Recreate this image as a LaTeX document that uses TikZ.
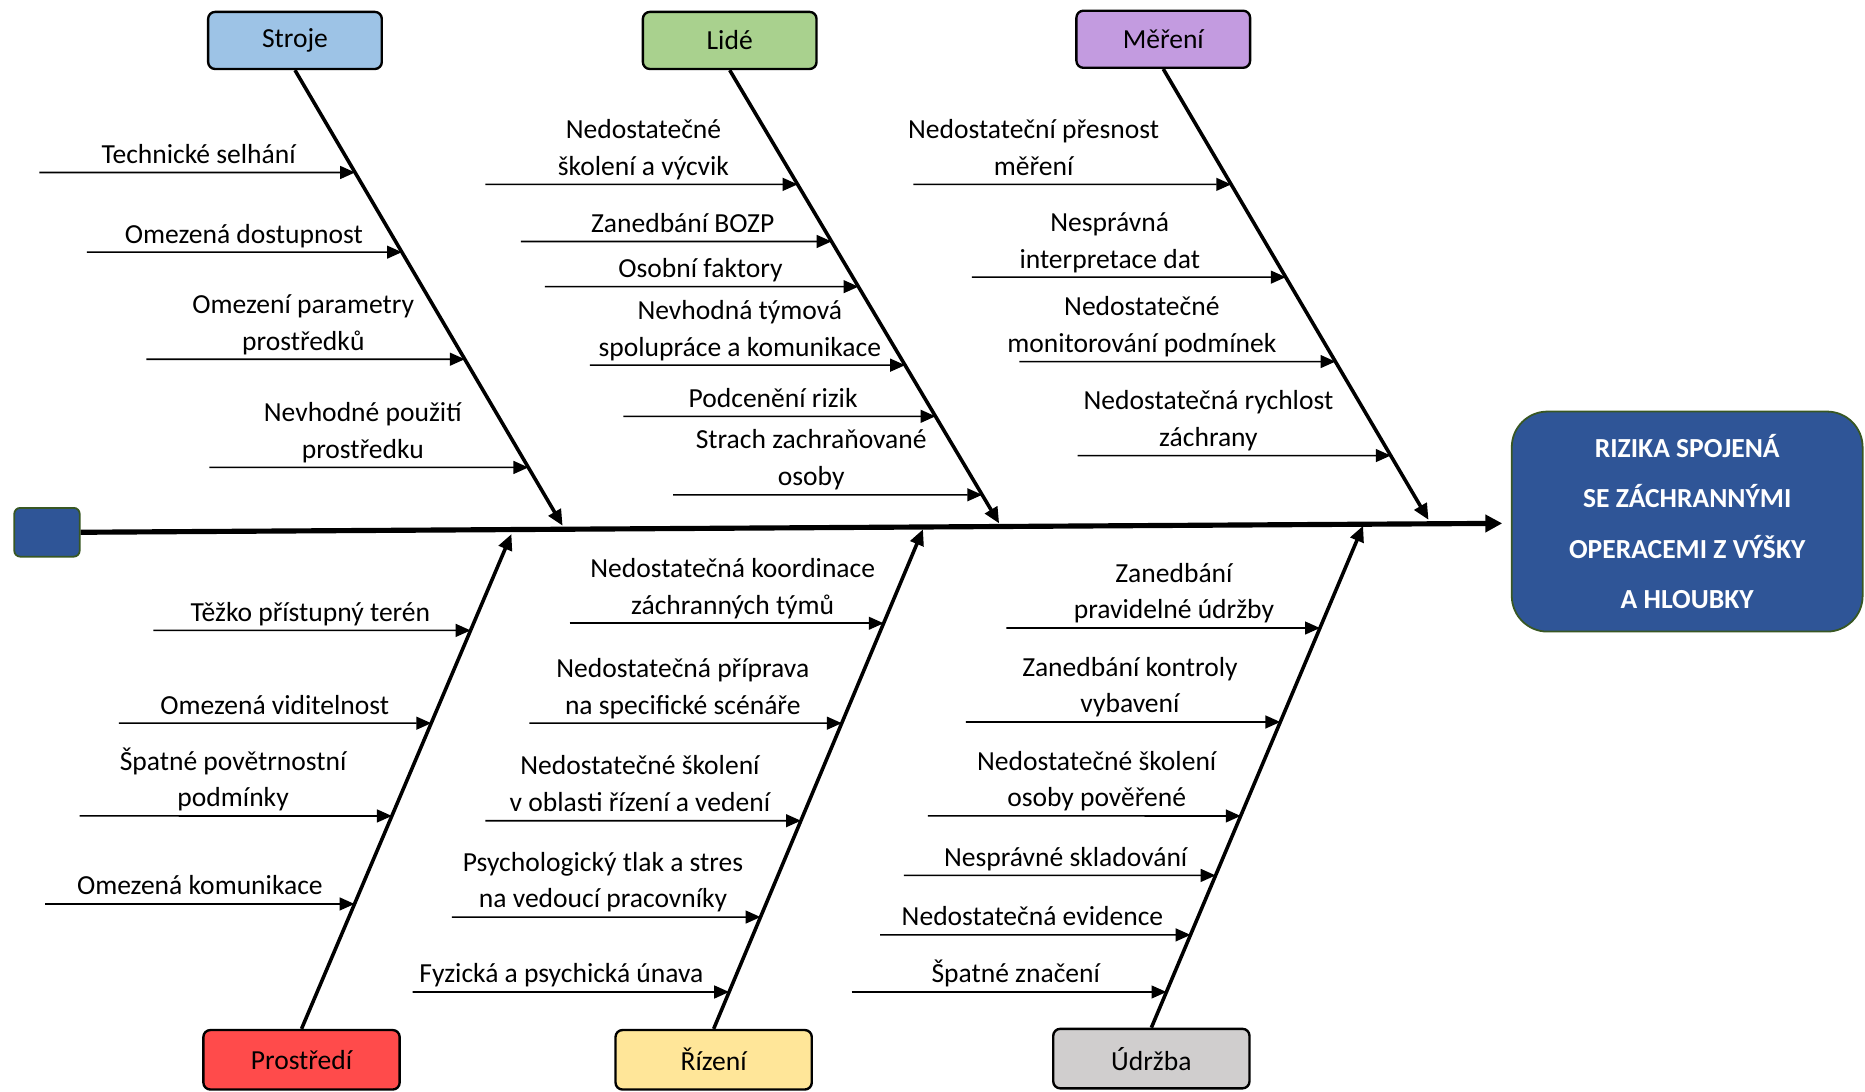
\documentclass[tikz,border=0pt]{standalone}
\usepackage{fontspec}
\setmainfont{Carlito}
\usetikzlibrary{arrows.meta,intersections}
\definecolor{strojebg}{HTML}{9DC3E6}
\definecolor{lidebg}{HTML}{A9D18E}
\definecolor{merenibg}{HTML}{C39BE0}
\definecolor{prostredibg}{HTML}{FF4B4B}
\definecolor{rizenibg}{HTML}{FFE699}
\definecolor{udrzbabg}{HTML}{D0CECE}
\definecolor{headblue}{HTML}{2F5597}
\definecolor{headline}{HTML}{385723}
\tikzset{
  catbox/.style={draw=black,line width=1.2pt,rounded corners=3.5pt,minimum width=87.6pt,minimum height=28.8pt,inner sep=0pt},
  lowbox/.style={catbox,minimum width=99pt,minimum height=30pt},
  bone/.style={line width=1.8pt,-{Triangle[length=8pt,width=7pt]}},
  sub/.style={line width=0.8pt,-{Triangle[length=7.5pt,width=6.5pt]}},
  cause/.style={anchor=south,inner sep=0pt,yshift=-1.2pt,align=center,execute at end node=\strut}
}
\begin{document}
\begin{tikzpicture}[x=0.6pt,y=-0.6pt,font=\fontsize{13.9}{18.6}\selectfont]
\useasboundingbox (0,0) rectangle (1568,918);
\node[fill=headblue,draw=headline,line width=0.9pt,rounded corners=18pt,minimum width=177pt,minimum height=111pt,align=center,text=white,font=\fontsize{13.9}{25.4}\selectfont\bfseries] (head) at (1418.5,438.5) {RIZIKA SPOJENÁ\\SE ZÁCHRANNÝMI\\OPERACEMI Z VÝŠKY\\A HLOUBKY};
\node[fill=headblue,draw=headline,line width=0.9pt,rounded corners=3pt,minimum width=33pt,minimum height=24.6pt,inner sep=0pt] (tail) at (39.5,447.5) {};
\coordinate (tip) at (1263,440);
\draw[line width=2.6pt,-{Triangle[length=8.5pt,width=8.5pt]}] (tail.east) -- (tip);

\node[catbox,fill=strojebg] (stroje) at (248,34) {Stroje};
\node[catbox,fill=lidebg] (lide) at (613.5,34) {Lidé};
\node[catbox,fill=merenibg] (mereni) at (978,33) {Měření};
\node[lowbox,fill=prostredibg] (prostredi) at (253.5,891) {Prostředí};
\node[lowbox,fill=rizenibg] (rizeni) at (600,891) {Řízení};
\node[lowbox,fill=udrzbabg] (udrzba) at (968,890) {Údržba};

\coordinate (strojeE) at (473,442);
\coordinate (lideE) at (840,440);
\coordinate (mereniE) at (1201,437);
\coordinate (prostrediE) at (430,449);
\coordinate (rizeniE) at (776,445);
\coordinate (udrzbaE) at (1146,442);
\draw[bone,name path=strojeP] (stroje.south) -- (strojeE);
\draw[bone,name path=lideP] (lide.south) -- (lideE);
\draw[bone,name path=mereniP] (mereni.south) -- (mereniE);
\draw[bone,name path=prostrediP] (prostredi.north) -- (prostrediE);
\draw[bone,name path=rizeniP] (rizeni.north) -- (rizeniE);
\draw[bone,name path=udrzbaP] (udrzba.north) -- (udrzbaE);

\foreach \n/\x/\y/\tx/\txt in {1/33/145/167/Technické selhání,2/73/212/205/Omezená dostupnost,3/123/302/255/{Omezení parametry\\prostředků},4/176/393/305/{Nevhodné použití\\prostředku}}{
  \coordinate (st\n) at (\x,\y);
  \path[name path=h] (st\n) -- ++(500,0);
  \draw[sub,name intersections={of=strojeP and h}] (st\n) -- (intersection-1);
  \node[cause] (stl\n) at (\tx,\y) {\txt};
}
\foreach \n/\x/\y/\tx/\txt in {1/408/155/541/{Nedostatečné\\školení a výcvik},2/438/203/574/Zanedbání BOZP,3/458/241/589/Osobní faktory,4/496/307/622/{Nevhodná týmová\\spolupráce a komunikace},5/524/350/650/Podcenění rizik,6/566/416/682/{Strach zachraňované\\osoby}}{
  \coordinate (li\n) at (\x,\y);
  \path[name path=h] (li\n) -- ++(500,0);
  \draw[sub,name intersections={of=lideP and h}] (li\n) -- (intersection-1);
  \node[cause] (lil\n) at (\tx,\y) {\txt};
}
\foreach \n/\x/\y/\tx/\txt in {1/768/155/869/{Nedostateční přesnost\\měření},2/817/233/933/{Nesprávná\\interpretace dat},3/857/304/960/{Nedostatečné\\monitorování podmínek},4/906/383/1016/{Nedostatečná rychlost\\záchrany}}{
  \coordinate (me\n) at (\x,\y);
  \path[name path=h] (me\n) -- ++(500,0);
  \draw[sub,name intersections={of=mereniP and h}] (me\n) -- (intersection-1);
  \node[cause] (mel\n) at (\tx,\y) {\txt};
}
\foreach \n/\x/\y/\tx/\txt in {1/129/530/261/Těžko přístupný terén,2/100/608/231/Omezená viditelnost,3/67/686/196/{Špatné povětrnostní\\podmínky},4/38/760/168/Omezená komunikace}{
  \coordinate (pr\n) at (\x,\y);
  \path[name path=h] (pr\n) -- ++(500,0);
  \draw[sub,name intersections={of=prostrediP and h}] (pr\n) -- (intersection-1);
  \node[cause] (prl\n) at (\tx,\y) {\txt};
}
\foreach \n/\x/\y/\tx/\txt in {1/479/524/616/{Nedostatečná koordinace\\záchranných týmů},2/445/608/574/{Nedostatečná příprava\\na specifické scénáře},3/408/690/538/{Nedostatečné školení\\v oblasti řízení a vedení},4/380/771/507/{Psychologický tlak a stres\\na vedoucí pracovníky},5/347/834/472/Fyzická a psychická únava}{
  \coordinate (ri\n) at (\x,\y);
  \path[name path=h] (ri\n) -- ++(500,0);
  \draw[sub,name intersections={of=rizeniP and h}] (ri\n) -- (intersection-1);
  \node[cause] (ril\n) at (\tx,\y) {\txt};
}
\foreach \n/\x/\y/\tx/\txt in {1/846/528/987/{Zanedbání\\pravidelné údržby},2/812/607/950/{Zanedbání kontroly\\vybavení},3/780/686/922/{Nedostatečné školení\\osoby pověřené},4/760/736/896/Nesprávné skladování,5/740/786/868/Nedostatečná evidence,6/716/834/854/Špatné značení}{
  \coordinate (ud\n) at (\x,\y);
  \path[name path=h] (ud\n) -- ++(500,0);
  \draw[sub,name intersections={of=udrzbaP and h}] (ud\n) -- (intersection-1);
  \node[cause] (udl\n) at (\tx,\y) {\txt};
}
\end{tikzpicture}
\end{document}
